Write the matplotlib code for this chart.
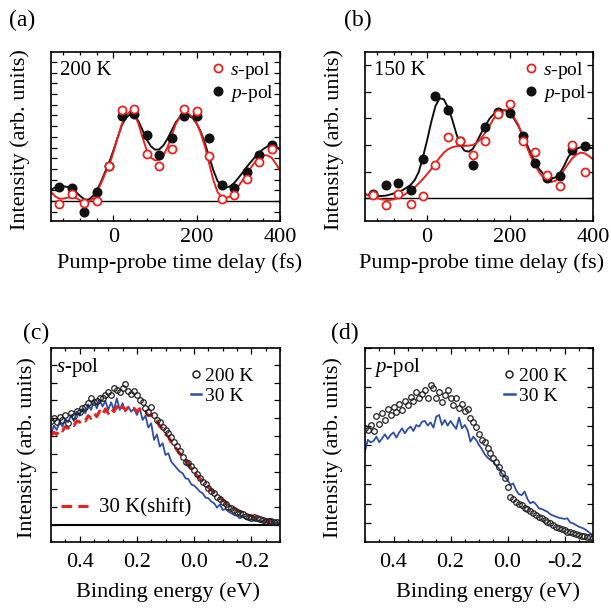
import matplotlib
matplotlib.use('Agg')
import matplotlib.pyplot as plt
from matplotlib.ticker import MultipleLocator, NullFormatter
from matplotlib.lines import Line2D
import numpy as np

plt.rcParams['font.family'] = 'Liberation Serif'
plt.rcParams['mathtext.fontset'] = 'custom'
plt.rcParams['mathtext.rm'] = 'Liberation Serif'
plt.rcParams['mathtext.it'] = 'Liberation Serif:italic'
plt.rcParams['axes.linewidth'] = 1.2

RED = '#e8231f'
BLUE = '#2d4fa6'

# ---- (a), (b): time-resolved intensity
t_pts = [-130, -100, -70, -40, -10, 20, 50, 80, 110, 140, 170, 200, 230, 260, 290, 320, 350, 380]
a_s = [-0.025, 0.069, -0.016, 0.0, 0.324, 0.854, 0.863, 0.442, 0.324, 0.489, 0.857, 0.838,
       0.417, 0.022, 0.053, 0.209, 0.364, 0.483]
a_p = [0.131, 0.125, -0.103, 0.084, 0.324, 0.791, 0.816, 0.614, 0.433, 0.592, 0.794, 0.791,
       0.592, 0.146, 0.125, 0.271, 0.427, 0.526]
b_s = [0.025, -0.050, 0.032, -0.042, 0.020, 0.250, 0.462, 0.432, 0.322, 0.432, 0.632, 0.704,
       0.432, 0.347, 0.175, 0.095, 0.400, 0.200]
b_p = [0.032, 0.100, 0.112, 0.062, 0.292, 0.767, 0.662, 0.432, 0.250, 0.532, 0.649, 0.642,
       0.467, 0.262, 0.150, 0.167, 0.362, 0.392]

t_fit = list(range(-150, 401, 10))
# fit curves (pixel-rows of the zoomed plot, converted below)
a_s_fit_px = [425, 438, 445, 445, 442, 440, 443, 450, 457, 455, 445, 425, 400, 370, 345, 305,
              262, 222, 195, 183, 190, 220, 262, 300, 322, 330, 328, 315, 290, 255, 220, 198,
              190, 190, 200, 218, 250, 290, 340, 390, 425, 440, 443, 438, 425, 408, 390, 372,
              352, 335, 322, 315, 315, 322, 340, 360, 385]
a_p_fit_px = [418, 412, 408, 408, 410, 415, 425, 437, 447, 448, 438, 420, 395, 365, 335, 300,
              262, 225, 202, 192, 195, 212, 240, 268, 288, 298, 297, 285, 265, 240, 215, 200,
              193, 195, 203, 220, 245, 280, 320, 360, 392, 408, 412, 408, 398, 383, 367, 350,
              335, 320, 307, 296, 288, 285, 288, 298, 298]
b_s_fit_px = [433, 437, 441, 445, 448, 450, 450, 448, 444, 438, 430, 422, 412, 400, 387, 372,
              357, 340, 323, 308, 298, 292, 289, 288, 288, 287, 285, 278, 265, 248, 228, 207,
              190, 180, 180, 188, 203, 225, 257, 290, 320, 345, 367, 382, 392, 396, 392, 380,
              360, 342, 325, 314, 308, 310, 318, 328, 328]
b_p_fit_px = [433, 435, 437, 438, 438, 437, 434, 430, 427, 421, 413, 405, 390, 365, 320, 270,
              215, 168, 145, 148, 172, 207, 250, 285, 302, 305, 297, 275, 250, 228, 207, 193,
              183, 180, 182, 192, 207, 228, 255, 282, 310, 337, 357, 372, 382, 386, 382, 370,
              348, 322, 305, 296, 292, 292, 293, 295, 295]
a_s_fit = (452 - np.array(a_s_fit_px[:len(t_fit)])) / 321
a_p_fit = (452 - np.array(a_p_fit_px[:len(t_fit)])) / 321
b_s_fit = (445 - np.array(b_s_fit_px[:len(t_fit)])) / 400.5
b_p_fit = (445 - np.array(b_p_fit_px[:len(t_fit)])) / 400.5

# ---- (c), (d): spectra
energy = np.round(np.arange(0.50, -0.3001, -0.01), 2)
c_200 = [0.584, 0.599, 0.577, 0.609, 0.590, 0.618, 0.571, 0.627, 0.614, 0.640, 0.637, 0.655,
         0.665, 0.684, 0.712, 0.693, 0.697, 0.712, 0.715, 0.730, 0.749, 0.730, 0.768, 0.758,
         0.749, 0.772, 0.790, 0.753, 0.734, 0.753, 0.730, 0.702, 0.693, 0.655, 0.637, 0.665,
         0.618, 0.590, 0.577, 0.552, 0.534, 0.515, 0.496, 0.464, 0.446, 0.416, 0.384, 0.356,
         0.346, 0.333, 0.309, 0.285, 0.266, 0.243, 0.228, 0.206, 0.191, 0.178, 0.159, 0.146,
         0.131, 0.116, 0.103, 0.094, 0.084, 0.075, 0.066, 0.060, 0.052, 0.047, 0.041, 0.047,
         0.037, 0.034, 0.028, 0.024, 0.022, 0.022, 0.019, 0.017, 0.015]
c_30 = [0.509, 0.558, 0.534, 0.581, 0.552, 0.596, 0.577, 0.618, 0.584, 0.637, 0.614, 0.655,
        0.627, 0.678, 0.646, 0.697, 0.655, 0.702, 0.665, 0.697, 0.646, 0.689, 0.646, 0.712,
        0.646, 0.684, 0.637, 0.665, 0.637, 0.652, 0.618, 0.655, 0.590, 0.614, 0.547, 0.571,
        0.478, 0.509, 0.440, 0.459, 0.393, 0.403, 0.356, 0.337, 0.318, 0.300, 0.290, 0.262,
        0.258, 0.228, 0.221, 0.206, 0.187, 0.178, 0.154, 0.150, 0.131, 0.122, 0.097, 0.116,
        0.084, 0.090, 0.075, 0.066, 0.056, 0.052, 0.037, 0.047, 0.034, 0.028, 0.034, 0.024,
        0.022, 0.019, 0.022, 0.017, 0.015, 0.019, 0.013, 0.013, 0.009]
c_30_shift = [0.502, 0.521, 0.509, 0.539, 0.528, 0.552, 0.543, 0.566, 0.558, 0.584, 0.577,
              0.596, 0.584, 0.614, 0.599, 0.627, 0.609, 0.640, 0.618, 0.652, 0.627, 0.655,
              0.637, 0.665, 0.640, 0.665, 0.646, 0.659, 0.646, 0.655, 0.637, 0.652, 0.627,
              0.637, 0.614, 0.618, 0.590, 0.584, 0.552, 0.543, 0.509, 0.496, 0.464, 0.449,
              0.421, 0.403, 0.378, 0.360, 0.341, 0.318, 0.303, 0.277, 0.262, 0.243, 0.228,
              0.210, 0.197, 0.182, 0.165, 0.154, 0.140, 0.127, 0.112, 0.109, 0.094, 0.084,
              0.075, 0.071, 0.060, 0.052, 0.052, 0.043, 0.037, 0.037, 0.030, 0.026, 0.028,
              0.024, 0.022, 0.022, 0.019]
d_200 = [0.491, 0.479, 0.505, 0.474, 0.553, 0.509, 0.565, 0.531, 0.588, 0.557, 0.600, 0.574,
         0.612, 0.582, 0.629, 0.608, 0.651, 0.629, 0.674, 0.643, 0.663, 0.686, 0.643, 0.711,
         0.698, 0.643, 0.677, 0.625, 0.660, 0.686, 0.646, 0.608, 0.643, 0.595, 0.612, 0.577,
         0.588, 0.543, 0.522, 0.497, 0.457, 0.428, 0.416, 0.385, 0.359, 0.333, 0.316, 0.290,
         0.256, 0.230, 0.187, 0.136, 0.124, 0.110, 0.096, 0.093, 0.079, 0.072, 0.062, 0.050,
         0.041, 0.033, 0.024, 0.015, 0.007, -0.002, -0.010, -0.019, -0.024, -0.031, -0.036,
         -0.045, -0.048, -0.053, -0.058, -0.062, -0.065, -0.065, -0.070, -0.070, -0.076]
d_30 = [0.371, 0.428, 0.416, 0.423, 0.445, 0.416, 0.436, 0.457, 0.433, 0.454, 0.467, 0.440,
        0.467, 0.488, 0.462, 0.485, 0.497, 0.474, 0.505, 0.497, 0.522, 0.526, 0.502, 0.519,
        0.491, 0.548, 0.557, 0.505, 0.531, 0.502, 0.526, 0.505, 0.485, 0.543, 0.488, 0.505,
        0.479, 0.419, 0.445, 0.428, 0.402, 0.381, 0.354, 0.337, 0.325, 0.316, 0.296, 0.282,
        0.256, 0.239, 0.222, 0.196, 0.204, 0.170, 0.148, 0.144, 0.162, 0.124, 0.101, 0.110,
        0.096, 0.076, 0.072, 0.065, 0.058, 0.045, 0.038, 0.033, 0.027, 0.024, 0.021, 0.024,
        0.003, -0.002, -0.010, -0.019, -0.024, -0.031, -0.041, -0.053, -0.062]

W, H = 611, 608
fig = plt.figure(figsize=(W / 100, H / 100), dpi=100)


def px_axes(l, t, r, b):
    return fig.add_axes([l / W, 1 - b / H, (r - l) / W, (b - t) / H])


def style(ax):
    ax.tick_params(which='both', direction='in', top=True, right=True, width=0.9,
                   labelsize=16)
    ax.tick_params(which='major', length=4)
    ax.tick_params(which='minor', length=2.5)
    ax.yaxis.set_major_formatter(NullFormatter())


ax_a = px_axes(51, 52, 280, 221)
ax_b = px_axes(365, 52, 593, 221)
ax_c = px_axes(51, 348, 280, 542)
ax_d = px_axes(365, 348, 593, 542)

time_axes = [(ax_a, a_s, a_p, a_s_fit, a_p_fit, '200 K', (-0.187, 1.393), 0.1, 0.563),
             (ax_b, b_s, b_p, b_s_fit, b_p_fit, '150 K', (-0.17, 1.096), 0.2, 0.513)]
for ax, s, p, sf, pf, label, ylim, ystep, xlx in time_axes:
    ax.axhline(0, color='black', lw=1.0)
    ax.plot(t_fit, pf, color='#111111', lw=1.4)
    ax.plot(t_fit, sf, color=RED, lw=1.4)
    ax.plot(t_pts, p, 'o', ms=6.2, color='#111111', mec='#111111')
    ax.plot(t_pts, s, 'o', ms=5.8, mfc='white', mec=RED, mew=1.3)
    ax.set_xlim(-150, 400)
    ax.set_ylim(*ylim)
    ax.xaxis.set_major_locator(MultipleLocator(200))
    ax.xaxis.set_minor_locator(MultipleLocator(40))
    ax.yaxis.set_major_locator(MultipleLocator(ystep))
    style(ax)
    ax.tick_params(axis='x', pad=5)
    ax.text(0.039, 0.893, label, transform=ax.transAxes, fontsize=15, va='center')
    ax.set_xlabel('Pump-probe time delay (fs)', fontsize=16, va='center')
    ax.xaxis.set_label_coords(xlx, -0.249)
    ax.set_ylabel('Intensity (arb. units)', fontsize=16, va='center')
    ax.yaxis.set_label_coords(-0.136, 0.479)
    handles = [Line2D([], [], ls='none', marker='o', ms=5.8, mfc='white', mec=RED, mew=1.3),
               Line2D([], [], ls='none', marker='o', ms=6.2, color='#111111')]
    ax.legend(handles, ['$s$-pol', '$p$-pol'], loc='upper left',
              bbox_to_anchor=(0.70, 0.955), frameon=False, fontsize=14,
              handlelength=0.7, handletextpad=0.25, borderpad=0, borderaxespad=0,
              labelspacing=0.1)

spec_axes = [(ax_c, c_200, c_30, '$s$-pol', (-0.0955, 0.994), -0.105, 0.022, 0.511),
             (ax_d, d_200, d_30, '$p$-pol', (-0.098, 0.902), -0.14, 0.039, 0.54)]
for ax, d200, d30, label, ylim, ylx, tx, xlx in spec_axes:
    ax.plot(energy, d200, 'o', ms=4.0, mfc='none', mec='#222222', mew=0.9, zorder=3)
    ax.plot(energy, d30, color=BLUE, lw=1.3, zorder=2)
    ax.set_xlim(0.5, -0.3)
    ax.set_ylim(*ylim)
    ax.xaxis.set_minor_locator(MultipleLocator(0.05))
    ax.yaxis.set_major_locator(MultipleLocator(0.1))
    ax.set_xticks([0.4, 0.2, 0.0, -0.2])
    ax.set_xticklabels(['0.4', '0.2', '0.0', '-0.2'])
    style(ax)
    ax.tick_params(axis='x', pad=8)
    ax.text(tx, 0.9, label, transform=ax.transAxes, fontsize=15, va='center')
    ax.set_xlabel('Binding energy (eV)', fontsize=16, va='center')
    ax.xaxis.set_label_coords(xlx, -0.258)
    ax.set_ylabel('Intensity (arb. units)', fontsize=16, va='center')
    ax.yaxis.set_label_coords(ylx, 0.485)
    handles = [Line2D([], [], ls='none', marker='o', ms=5.0, mfc='none', mec='#222222', mew=1.1),
               Line2D([], [], color=BLUE, lw=1.8)]
    ax.legend(handles, ['200 K', '30 K'], loc='upper left',
              bbox_to_anchor=(0.61, 0.9), frameon=False, fontsize=14,
              handlelength=0.55, handletextpad=0.2, borderpad=0, borderaxespad=0,
              labelspacing=0.1)

# (c) extras: baseline and shifted 30 K spectrum; keep the first legend as an artist
ax_c.add_artist(ax_c.get_legend())
ax_c.axhline(0, color='black', lw=1.5, zorder=1)
ax_c.plot(energy, c_30_shift, color=RED, lw=2.2, ls=(0, (3.5, 2)), zorder=2.5)
ax_c.legend([Line2D([], [], color=RED, lw=2.2, ls=(0, (3.5, 2)))], ['30 K(shift)'],
            loc='upper left', bbox_to_anchor=(0.045, 0.225), frameon=False,
            fontsize=15, handlelength=1.3, handletextpad=0.5, borderpad=0,
            borderaxespad=0)

# panel letters
for txt, x, y in [('(a)', 22, 20), ('(b)', 358, 20), ('(c)', 36, 333), ('(d)', 345, 333)]:
    fig.text(x / W, 1 - y / H, txt, fontsize=17, ha='center', va='center')

plt.savefig('out.png', dpi=100)
plt.close()
